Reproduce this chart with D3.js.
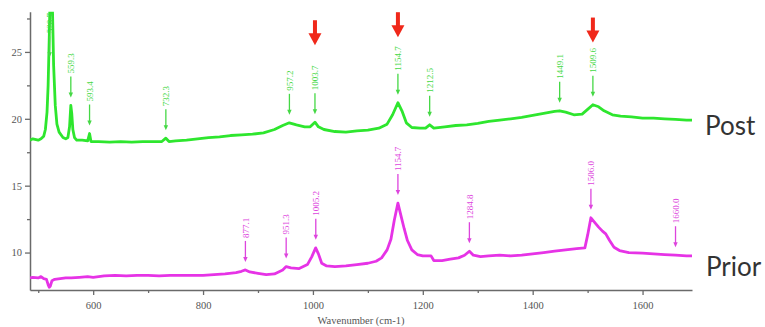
<!DOCTYPE html>
<html><head><meta charset="utf-8">
<script src="https://cdn.jsdelivr.net/npm/d3@7"></script>
<style>body{margin:0;background:#fff}svg{display:block}</style>
</head><body>
<svg id="c" width="765" height="327"></svg>
<script>
// ---- data ----
const postWavenumbers = [485,490,500,505,510,513,516,518,520,522,524,526,528,531,534,538,545,550,554,557,559.3,561,563,566,570,580,590,593.4,596,610,630,650,670,690,710,725,732.3,738,750,770,790,810,830,850,870,890,910,930,945,957,970,985,995,1003.7,1010,1020,1040,1060,1080,1100,1120,1135,1145,1154.7,1162,1170,1180,1195,1205,1212.5,1220,1240,1260,1280,1300,1320,1340,1360,1380,1400,1420,1440,1449,1460,1475,1490,1500,1509.6,1520,1530,1545,1560,1580,1600,1620,1640,1660,1680,1690];
const postIntensity = [18.4,18.5,18.4,18.5,18.7,19.2,20.5,22.5,26,30,31,28,24,21,19.6,19.0,18.6,18.5,18.6,19.4,21.0,20.4,19.2,18.6,18.4,18.4,18.35,18.9,18.3,18.3,18.25,18.3,18.25,18.3,18.3,18.3,18.55,18.3,18.35,18.4,18.5,18.6,18.65,18.75,18.8,18.85,18.95,19.2,19.5,19.7,19.55,19.4,19.4,19.75,19.4,19.2,19.05,19.0,19.1,19.15,19.3,19.6,20.3,21.2,20.6,19.7,19.35,19.3,19.3,19.55,19.3,19.4,19.5,19.55,19.65,19.8,19.9,20.0,20.1,20.25,20.4,20.55,20.6,20.5,20.3,20.35,20.7,21.05,20.9,20.6,20.3,20.2,20.15,20.05,20.05,20.0,19.95,19.9,19.9];

const priorWavenumbers = [485,490,500,505,510,515,518,520,522,525,530,540,550,560,575,590,600,620,640,660,680,700,720,740,760,780,800,820,840,860,870,877.1,885,900,915,930,945,951.3,960,975,990,998,1005,1010,1016,1025,1040,1060,1080,1100,1115,1125,1135,1142,1148,1154.7,1160,1166,1172,1180,1190,1200,1215,1220,1235,1250,1265,1276,1284.8,1292,1305,1320,1340,1360,1380,1400,1420,1440,1460,1480,1495,1500,1506,1512,1520,1527,1533,1540,1548,1558,1575,1600,1620,1640,1660,1680,1690];
const priorIntensity = [8.1,8.15,8.1,8.2,8.05,8.0,7.6,7.4,7.5,7.9,8.0,8.05,8.1,8.1,8.15,8.2,8.15,8.25,8.3,8.25,8.3,8.3,8.25,8.3,8.3,8.3,8.3,8.35,8.4,8.5,8.6,8.7,8.55,8.45,8.35,8.4,8.7,8.95,8.85,8.8,9.1,9.7,10.35,9.9,9.2,9.0,8.95,9.0,9.1,9.2,9.35,9.6,10.2,11.0,12.4,13.7,12.8,11.8,10.9,10.2,9.85,9.75,9.75,9.4,9.4,9.5,9.6,9.8,10.1,9.8,9.7,9.75,9.8,9.75,9.8,9.9,10.0,10.1,10.2,10.3,10.35,11.3,12.6,12.3,11.9,11.6,11.4,10.9,10.4,10.15,10.0,9.95,9.9,9.85,9.8,9.75,9.75];

const postPeaks = [520.7,559.3,593.4,732.3,957.2,1003.7,1154.7,1212.5,1449.1,1509.6];
const postPeakHeights = [24.0,21.0,18.9,18.55,19.7,19.75,21.2,19.55,20.6,21.05];
const priorPeaks = [877.1,951.3,1005.2,1154.7,1284.8,1506.0,1660.0];
const priorPeakHeights = [8.7,8.95,10.35,13.7,10.1,12.6,9.8];
const highlightPeaks = [1003.7,1154.7,1509.6];
const highlightTips = [25.5,26.1,25.7];

const xTickLabels = [600,800,1000,1200,1400,1600];
const xMinorTicks = [500,700,900,1100,1300,1500];
const yTickLabels = [10,15,20,25];
const yMinorTicks = [12.5,17.5,22.5,27.5];
const seriesNames = ["Post","Prior"];
const xTitle = "Wavenumber (cm-1)";

// ---- chart ----
const svg = d3.select("#c");
const L = 30, R = 692, T = 11.8, B = 290;
const x = d3.scaleLinear([485,1690],[L,R]);
const y = d3.scaleLinear([7.2,28],[B,T]);
const axisCol = "#6a6a6a", tickTxt = "#555";
const green = "#2ee62e", magenta = "#e633e6";
const greenTxt = "#45d845", magTxt = "#dd44dd";

svg.append("defs").append("clipPath").attr("id","clip")
  .append("rect").attr("x",L).attr("y",T).attr("width",R-L).attr("height",B-T);

// axes
const xAxis = svg.append("g").attr("transform",`translate(0,${B})`)
  .call(d3.axisBottom(x).tickValues(xTickLabels).tickFormat(d3.format("d")).tickSize(5).tickSizeOuter(0));
xAxis.select(".domain").attr("stroke",axisCol).attr("stroke-width",1.5);
xAxis.selectAll(".tick line").attr("stroke",axisCol).attr("stroke-width",1.3);
xAxis.selectAll("text").attr("font-family","Liberation Serif").attr("font-size",10.5).attr("fill",tickTxt).attr("dy","1.05em");
svg.append("g").attr("transform",`translate(0,${B})`)
  .call(d3.axisBottom(x).tickValues(xMinorTicks).tickSize(3).tickFormat(""))
  .call(g=>g.select(".domain").remove())
  .selectAll(".tick line").attr("stroke",axisCol).attr("stroke-width",1.3);

const yAxis = svg.append("g").attr("transform",`translate(${L},0)`)
  .call(d3.axisLeft(y).tickValues(yTickLabels).tickSize(5).tickSizeOuter(0));
yAxis.select(".domain").attr("stroke",axisCol).attr("stroke-width",1.5);
yAxis.selectAll(".tick line").attr("stroke",axisCol).attr("stroke-width",1.3);
yAxis.selectAll("text").attr("font-family","Liberation Serif").attr("font-size",10.5).attr("fill",tickTxt).attr("x",-8);
svg.append("g").attr("transform",`translate(${L},0)`)
  .call(d3.axisLeft(y).tickValues(yMinorTicks).tickSize(3).tickFormat(""))
  .call(g=>g.select(".domain").remove())
  .selectAll(".tick line").attr("stroke",axisCol).attr("stroke-width",1.3);

svg.append("text").attr("x",(L+R)/2).attr("y",324).attr("text-anchor","middle")
  .attr("font-family","Liberation Serif").attr("font-size",10.5).attr("fill",tickTxt).text(xTitle);

// spectra
const line = d3.line().x(d=>x(d[0])).y(d=>y(d[1])).curve(d3.curveLinear);
const plot = svg.append("g").attr("clip-path","url(#clip)");
plot.append("path").datum(postWavenumbers.map((w,i)=>[w,postIntensity[i]]))
  .attr("d",line).attr("fill","none").attr("stroke",green).attr("stroke-width",2.8).attr("stroke-linejoin","round");
plot.append("path").datum(priorWavenumbers.map((w,i)=>[w,priorIntensity[i]]))
  .attr("d",line).attr("fill","none").attr("stroke",magenta).attr("stroke-width",2.8).attr("stroke-linejoin","round");

// peak labels
function peakLabels(peaks, heights, col){
  const g = svg.append("g");
  peaks.forEach((p,i)=>{
    const px = x(p), tip = y(heights[i]) - 8, top = tip - 21;
    g.append("line").attr("x1",px).attr("x2",px).attr("y1",top).attr("y2",tip-4)
      .attr("stroke",col).attr("stroke-width",1.3);
    g.append("path").attr("d",`M${px-2.2},${tip-5}L${px+2.2},${tip-5}L${px},${tip}Z`).attr("fill",col);
    g.append("text").attr("transform",`translate(${px},${top-3}) rotate(-90)`)
      .attr("dy","0.35em").attr("font-family","Liberation Serif").attr("font-size",9)
      .attr("fill",col).text(p.toFixed(1));
  });
}
peakLabels(postPeaks, postPeakHeights, greenTxt);
peakLabels(priorPeaks, priorPeakHeights, magTxt);

// red highlight arrows
highlightPeaks.forEach((p,i)=>{
  const px = x(p), tip = y(highlightTips[i]);
  svg.append("rect").attr("x",px-2).attr("y",tip-25).attr("width",4).attr("height",14).attr("fill","#f0281a");
  svg.append("path").attr("d",`M${px-6.5},${tip-12}L${px+6.5},${tip-12}L${px},${tip}Z`).attr("fill","#f0281a");
});

// series names
svg.append("text").attr("x",705).attr("y",135).attr("font-family","Lato").attr("font-size",26).attr("fill","#333").text(seriesNames[0]);
svg.append("text").attr("x",706).attr("y",276).attr("font-family","Lato").attr("font-size",26).attr("fill","#333").text(seriesNames[1]);
</script>
</body></html>
